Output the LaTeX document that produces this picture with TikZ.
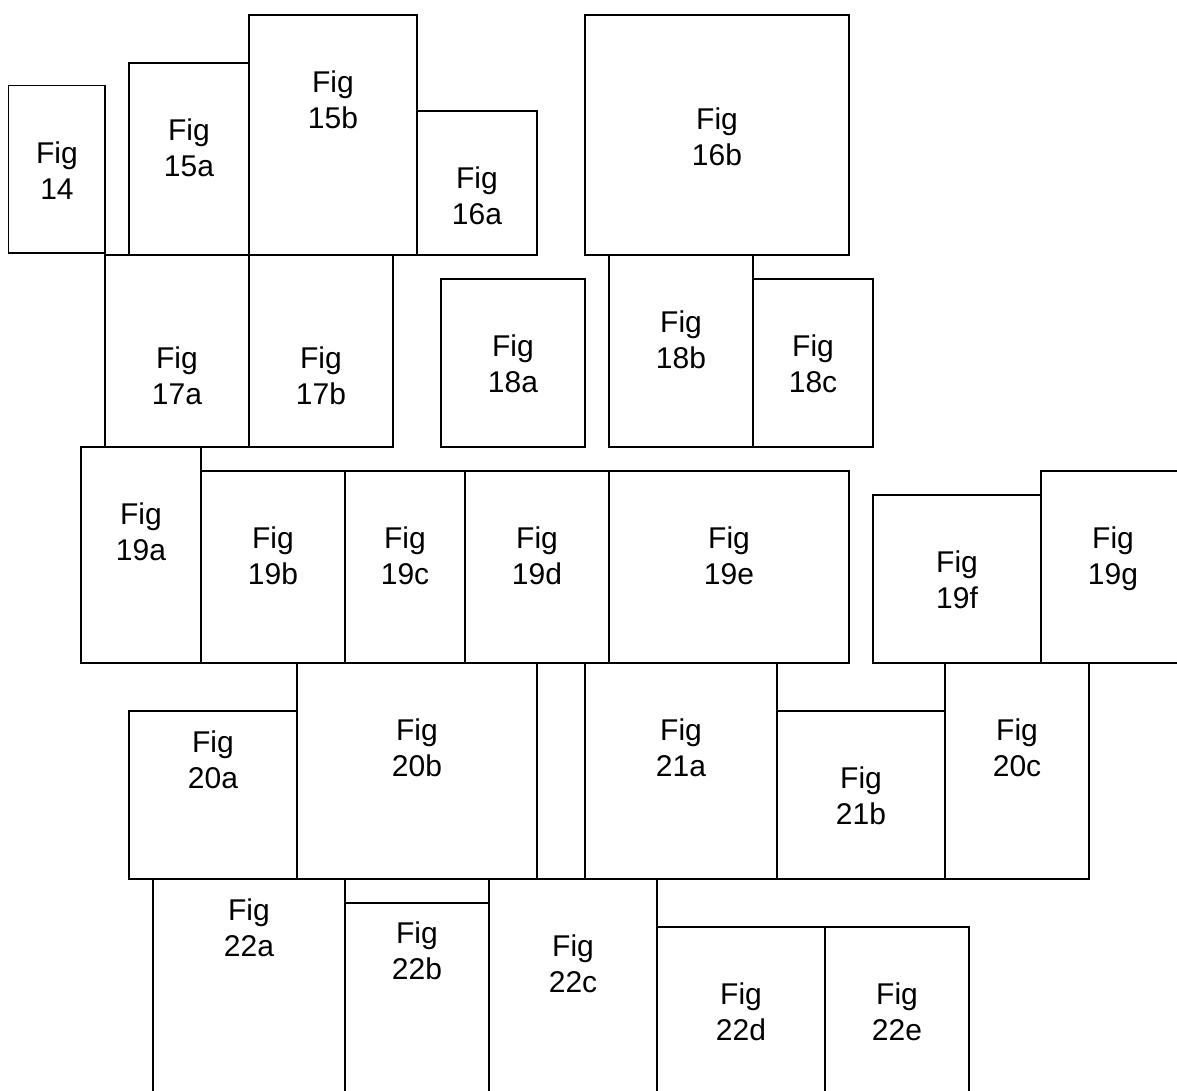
\documentclass[tikz,border=0pt]{standalone}
\usepackage{fontspec}
\setmainfont{Liberation Sans}
\newcommand\FigRect[5]{\node[figrect, minimum width=#4pt, minimum height=#5pt] (#1) at (#2,#3) {};}
\newcommand\FigText[4]{\node[figtext] (#1) at (#2,#3) {Fig\\#4};}
\begin{document}
\begin{tikzpicture}[x=1pt,y=-1pt,
  figrect/.style={draw=black, line width=1.6pt, inner sep=0pt, outer sep=0pt, anchor=north west},
  figtext/.style={align=center, inner sep=0pt, font=\fontsize{30}{36}\selectfont}]
\useasboundingbox (0,0) rectangle (1177,1090);
\clip (0,0) rectangle (1177,1090);
\FigRect{f14}{8.5}{85.5}{96.5}{167.5}
\FigRect{f15a}{129}{63}{120}{192}
\FigRect{f15b}{249}{15}{168}{240}
\FigRect{f16a}{417}{111}{120}{144}
\FigRect{f16b}{585}{15}{264}{240}
\FigRect{f17a}{105}{255}{144}{192}
\FigRect{f17b}{249}{255}{144}{192}
\FigRect{f18a}{441}{279}{144}{168}
\FigRect{f18b}{609}{255}{144}{192}
\FigRect{f18c}{753}{279}{120}{168}
\FigRect{f19a}{81}{447}{120}{216}
\FigRect{f19b}{201}{471}{144}{192}
\FigRect{f19c}{345}{471}{120}{192}
\FigRect{f19d}{465}{471}{144}{192}
\FigRect{f19e}{609}{471}{240}{192}
\FigRect{f19f}{873}{495}{168}{168}
\FigRect{f19g}{1041}{471}{144}{192}
\FigRect{f20a}{129}{711}{168}{168}
\FigRect{f20b}{297}{663}{240}{216}
\FigRect{f21a}{585}{663}{192}{216}
\FigRect{f21b}{777}{711}{168}{168}
\FigRect{f20c}{945}{663}{144}{216}
\FigRect{f22a}{153}{879}{192}{240}
\FigRect{f22b}{345}{903}{144}{240}
\FigRect{f22c}{489}{879}{168}{240}
\FigRect{f22d}{657}{927}{168}{240}
\FigRect{f22e}{825}{927}{144}{240}
\FigText{t14}{57}{171}{14}
\FigText{t15a}{189}{148}{15a}
\FigText{t15b}{333}{100}{15b}
\FigText{t16a}{477}{196}{16a}
\FigText{t16b}{717}{137}{16b}
\FigText{t17a}{177}{376}{17a}
\FigText{t17b}{321}{376}{17b}
\FigText{t18a}{513}{364}{18a}
\FigText{t18b}{681}{340}{18b}
\FigText{t18c}{813}{364}{18c}
\FigText{t19a}{141}{532}{19a}
\FigText{t19b}{273}{556}{19b}
\FigText{t19c}{405}{556}{19c}
\FigText{t19d}{537}{556}{19d}
\FigText{t19e}{729}{556}{19e}
\FigText{t19f}{957}{580}{19f}
\FigText{t19g}{1113}{559}{19g}
\FigText{t20a}{213}{760}{20a}
\FigText{t20b}{417}{748}{20b}
\FigText{t21a}{681}{748}{21a}
\FigText{t21b}{861}{796}{21b}
\FigText{t20c}{1017}{748}{20c}
\FigText{t22a}{249}{928}{22a}
\FigText{t22b}{417}{951}{22b}
\FigText{t22c}{573}{964}{22c}
\FigText{t22d}{741}{1012}{22d}
\FigText{t22e}{897}{1012}{22e}
\end{tikzpicture}
\end{document}
